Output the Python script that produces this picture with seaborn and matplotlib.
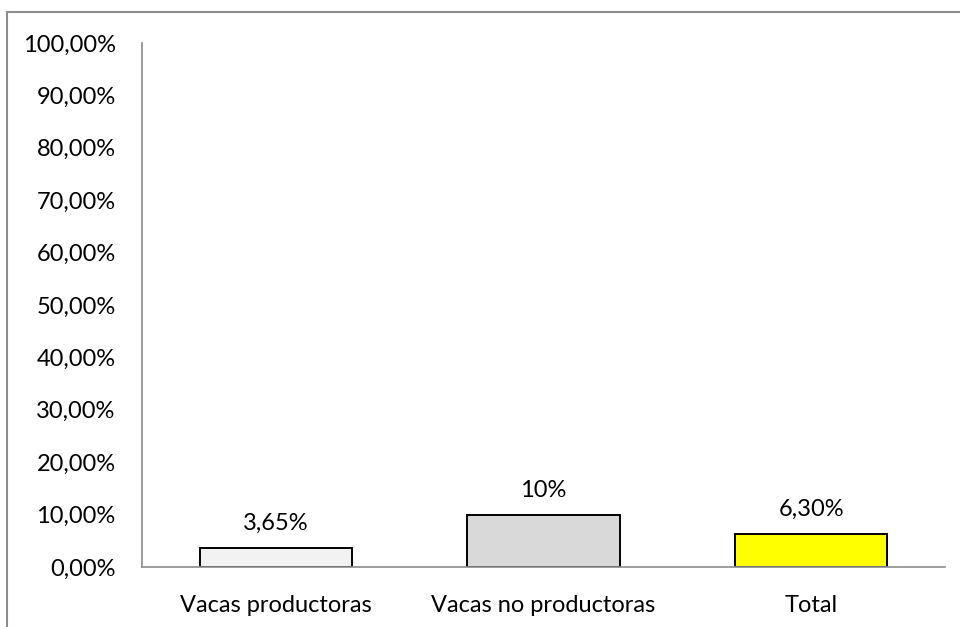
import matplotlib
matplotlib.use("Agg")
import matplotlib.pyplot as plt
from matplotlib.lines import Line2D
import seaborn as sns
import pandas as pd

categories = ["Vacas productoras", "Vacas no productoras", "Total"]
values = [3.65, 10.0, 6.30]
value_labels = ["3,65%", "10%", "6,30%"]
bar_colors = ["#F2F2F2", "#D9D9D9", "#FFFF00"]
tick_values = [0, 10, 20, 30, 40, 50, 60, 70, 80, 90, 100]
tick_labels = ["0,00%", "10,00%", "20,00%", "30,00%", "40,00%", "50,00%",
               "60,00%", "70,00%", "80,00%", "90,00%", "100,00%"]

sns.set_theme(style="white")
plt.rcParams['font.family'] = ['Lato', 'DejaVu Sans']

df = pd.DataFrame({"cat": categories, "val": values})

W, H = 960, 627
FS = 17
fig = plt.figure(figsize=(9.6, 6.27), dpi=100)
ax = fig.add_axes([142 / W, 1 - 567 / H, (945 - 142) / W, (567 - 43) / H])

sns.barplot(data=df, x="cat", y="val", hue="cat", palette=bar_colors,
            saturation=1, width=0.57, edgecolor="black", linewidth=1.4,
            legend=False, ax=ax)

ax.set_ylim(0, 100)
ax.set_yticks(tick_values)
ax.set_yticklabels(tick_labels, fontsize=FS)
ax.set_xlabel("")
ax.set_ylabel("")
ax.tick_params(axis="x", labelsize=FS, pad=20, length=0)
ax.tick_params(axis="y", pad=19, length=0)
for lab in ax.get_xticklabels() + ax.get_yticklabels():
    lab.set_color("black")

for s in ["top", "right"]:
    ax.spines[s].set_visible(False)
for s in ["left", "bottom"]:
    ax.spines[s].set_color("#8C8C8C")
    ax.spines[s].set_linewidth(1.2)
ax.set_xlim(-0.5, 2.5)

for i, (v, lab) in enumerate(zip(values, value_labels)):
    ax.annotate(lab, (i, v), xytext=(0, 10), textcoords="offset points",
                ha="center", va="bottom", fontsize=FS, color="black")

# outer frame (top and left lines)
fig.add_artist(Line2D([7 / W, 1.0], [1 - 12 / H, 1 - 12 / H], color="#8C8C8C", lw=1.5,
                      transform=fig.transFigure))
fig.add_artist(Line2D([7 / W, 7 / W], [0.0, 1 - 12 / H], color="#8C8C8C", lw=1.5,
                      transform=fig.transFigure))

fig.savefig("out.png", dpi=100, facecolor="white")
